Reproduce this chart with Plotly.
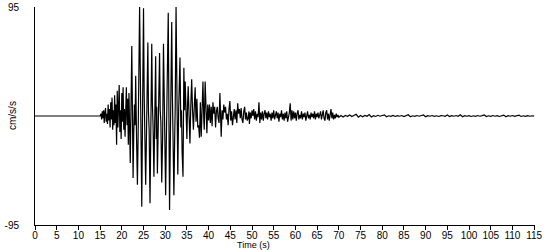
import plotly.graph_objects as go

# ---- Pre-event (flat) ----
pre_t = [0.0, 1.9, 2.0, 2.1, 14.9]
pre_v = [0, 0, 0.6, 0, 0]

# ---- Onset (15 - 22 s) ----
onset_t = [15.0, 15.2, 15.35, 15.5, 15.65, 15.8, 15.95, 16.1, 16.25, 16.4,
           16.55, 16.7, 16.85, 17.0, 17.15, 17.3, 17.45, 17.6, 17.75, 17.9,
           18.05, 18.2, 18.35, 18.5, 18.65, 18.8, 18.95, 19.1, 19.25, 19.4,
           19.55, 19.7, 19.85, 20.0, 20.15, 20.3, 20.45, 20.6, 20.75, 20.9,
           21.05, 21.2, 21.35, 21.5, 21.65, 21.8, 21.95]
onset_v = [0, 2, -3, 4, -2, 5, -6, 3, 7, -5,
           2, -7, 10, -4, 6, -10, 12, -3, 16, -12,
           5, -8, 18, -6, 10, -25, 22, -10, 8, 27,
           -14, 5, -20, 20, -5, 25, -12, 6, -18, 10,
           25, -8, 15, -25, 20, -10, -41]

# ---- Strong motion (22 - 36 s) ----
strong_t = [22.3, 22.45, 22.6, 22.75, 22.9, 23.05, 23.2, 23.4, 23.6, 23.8,
            24.1, 24.35, 24.6, 24.8, 25.0, 25.15, 25.25, 25.5, 25.65, 25.8,
            26.0, 26.15, 26.3, 26.5, 26.7, 26.9, 27.05, 27.2, 27.4, 27.6,
            27.8, 27.95, 28.05, 28.2, 28.35, 28.5, 28.7, 28.85, 29.0, 29.2,
            29.4, 29.6, 29.75, 29.9, 30.1, 30.25, 30.4, 30.7, 31.0, 31.15,
            31.3, 31.5, 31.65, 31.8, 32.0, 32.2, 32.3, 32.5, 32.7, 32.9,
            33.1, 33.25, 33.4, 33.6, 33.75, 33.9, 34.1, 34.3, 34.45, 34.6,
            34.8, 35.0, 35.15, 35.3, 35.5, 35.7, 35.9]
strong_v = [61, 5, -54, -15, 10, -8, 35, -20, -60, -5,
            95, 8, -79, 12, 94, 20, -10, -60, -25, 8,
            64, 3, -12, -76, 6, 63, 10, -8, -53, 4,
            52, -20, 8, -50, -10, 10, 55, 5, -5, -58,
            -20, 63, 15, -10, -69, -25, 12, 90, -82, -30,
            10, 82, 20, -8, -69, -15, 6, 95, 10, -51,
            5, 20, 51, -10, 5, -32, -53, 42, 5, 30,
            -8, -20, 10, 26, 0, -24, 10]

# ---- Coda (36 - 70 s) ----
coda_t = [36.1, 36.3, 36.5, 36.7, 36.9, 37.1, 37.3, 37.5, 37.7, 37.9,
          38.1, 38.3, 38.5, 38.7, 38.9, 39.0, 39.2, 39.4, 39.6, 39.8,
          40.0, 40.2, 40.4, 40.6, 40.8, 41.0, 41.2, 41.4, 41.6, 41.8,
          42.0, 42.2, 42.4, 42.6, 42.8, 42.9, 43.1, 43.3, 43.5, 43.7,
          43.9, 44.1, 44.3, 44.5, 44.7, 44.9, 45.1, 45.3, 45.5, 45.7,
          45.9, 46.1, 46.3, 46.5, 46.7, 46.9, 47.1, 47.3, 47.5, 47.7,
          47.9, 48.1, 48.3, 48.5, 48.7, 48.9, 49.1, 49.3, 49.4, 49.6,
          49.8, 50.0, 50.2, 50.4, 50.6, 50.8, 51.0, 51.2, 51.4, 51.6,
          51.8, 52.0, 52.2, 52.4, 52.6, 52.8, 53.0, 53.2, 53.4, 53.6,
          53.8, 54.0, 54.2, 54.4, 54.6, 54.8, 55.0, 55.2, 55.4, 55.6,
          55.8, 56.0, 56.2, 56.4, 56.6, 56.8, 57.0, 57.2, 57.4, 57.6,
          57.8, 58.0, 58.2, 58.4, 58.6, 58.8, 59.0, 59.2, 59.4, 59.6,
          59.8, 60.0, 60.2, 60.4, 60.6, 60.8, 61.0, 61.2, 61.4, 61.6,
          61.8, 62.0, 62.2, 62.4, 62.6, 62.8, 63.0, 63.2, 63.4, 63.6,
          63.8, 64.0, 64.2, 64.4, 64.6, 64.8, 65.0, 65.2, 65.4, 65.6,
          65.8, 66.0, 66.2, 66.4, 66.6, 66.8, 67.0, 67.2, 67.4, 67.6,
          67.8, 68.0, 68.2, 68.4, 68.6, 68.8, 69.0, 69.2, 69.4, 69.6,
          69.8, 70.0]
coda_v = [32, 5, -12, 8, 25, -5, 15, -10, -8, -19,
          12, -18, 20, 30, -5, -12, 30, 5, -15, 10,
          -4, 10, -6, 8, -9, 12, 2, 8, -10, 4,
          8, -2, -6, 20, 2, -18, 5, -3, 10, 3,
          8, -3, 2, -8, 6, 13, -4, 4, -8, 3,
          6, -3, 5, -6, 11, 2, 6, -2, 7, -3,
          -6, 4, 8, -3, 3, -4, -2, 4, -7, 3,
          -2, 5, 0, 6, -3, 4, -4, 2, -1, 12,
          -6, 3, -3, 4, -4, 2, 5, -2, 3, -3,
          4, -1, 2, -4, 3, -2, 5, -3, 1, 4,
          -2, 3, -5, 2, -1, 5, -3, 2, -4, 3,
          -2, 4, -5, -1, 3, 11, -4, 5, -3, 4,
          -2, 3, -4, 2, 5, -3, 1, -2, 4, -3,
          2, -1, 3, -4, 2, 4, -2, 1, -3, 3,
          -1, 2, -2, 4, -3, 2, -1, 3, -2, 1,
          4, -3, 2, 5, -2, -4, 3, 5, -3, 2,
          -4, 4, 6, -2, 3, -3, 1, -2, 2, -1,
          1, -1]

# ---- Tail (70 - 115 s) ----
tail_t = [70.5, 71.0, 71.5, 72.0, 72.5, 73.0, 73.5, 74.0, 74.5, 75.0,
          75.5, 76.0, 76.5, 77.0, 77.5, 78.0, 78.5, 79.0, 79.5, 80.0,
          80.5, 81.0, 81.5, 82.0, 82.5, 83.0, 83.5, 84.0, 84.5, 85.0,
          85.5, 86.0, 86.5, 87.0, 87.5, 88.0, 88.5, 89.0, 89.5, 90.0,
          90.5, 91.0, 91.5, 92.0, 92.5, 93.0, 93.5, 94.0, 94.5, 95.0,
          95.5, 96.0, 96.5, 97.0, 97.5, 98.0, 98.5, 99.0, 99.5, 100.0,
          100.5, 101.0, 101.5, 102.0, 102.5, 103.0, 103.5, 104.0, 104.5, 105.0,
          105.5, 106.0, 106.5, 107.0, 107.5, 108.0, 108.5, 109.0, 109.5, 110.0,
          110.5, 111.0, 111.5, 112.0, 112.5, 113.0, 113.5, 114.0, 114.5, 115.0]
tail_v = [0.5, -0.8, 0.4, -0.3, 0.9, -0.5, 0.3, 1.5, -1.0, 0.4,
          -0.6, 0.5, -0.3, 1.2, -0.8, 0.3, -0.4, 0.6, -0.2, 0.3,
          1.0, -0.7, 0.2, -0.3, 0.5, -0.4, 0.3, -0.2, 0.4, -0.5,
          0.3, 1.1, -0.6, 0.2, -0.3, 0.4, -0.2, 0.3, 0.9, -0.6,
          0.3, -0.2, 0.4, -0.3, 0.2, -0.4, 0.3, 0.2, -0.3, 0.8,
          -0.5, 0.3, -0.2, 0.4, -0.3, 1.0, -0.6, 0.3, -0.2, 0.3,
          -0.4, 0.2, -0.3, 0.4, -0.2, 0.3, 0.9, -0.5, 0.2, -0.3,
          0.4, -0.2, 0.3, -0.4, 0.2, 0.8, -0.6, 0.3, -0.2, 0.4,
          -0.3, 0.2, 0.7, -0.4, 0.2, -0.3, 0.3, -0.2, 0.2, -0.1]

for a, b in [(pre_t, pre_v), (onset_t, onset_v), (strong_t, strong_v),
             (coda_t, coda_v), (tail_t, tail_v)]:
    assert len(a) == len(b), (len(a), len(b))

time_s = pre_t + onset_t + strong_t + coda_t + tail_t
accel = pre_v + onset_v + strong_v + coda_v + tail_v

x_ticks = list(range(0, 120, 5))
y_ticks = [-95, 95]
y_tick_text = ["-95", "95"]

font_family = "Liberation Sans, Arial, sans-serif"

fig = go.Figure()
fig.add_trace(go.Scatter(
    x=time_s, y=accel, mode="lines",
    line=dict(color="black", width=1.2),
    hoverinfo="skip", showlegend=False,
))

fig.update_layout(
    width=550, height=250,
    margin=dict(l=35, r=15, t=7, b=25, autoexpand=False),
    paper_bgcolor="white", plot_bgcolor="white",
    font=dict(family=font_family, size=10, color="black"),
    xaxis=dict(
        range=[0, 115.2], tickvals=x_ticks, ticks="outside", ticklen=4,
        tickcolor="black", showline=True, linecolor="black", linewidth=1,
        showgrid=False, zeroline=False, tickfont=dict(size=10),
        ticklabelstandoff=-3, automargin=False,
    ),
    yaxis=dict(
        range=[-95, 95], tickvals=y_ticks, ticktext=y_tick_text, ticks="",
        showline=True, linecolor="black", linewidth=1,
        showgrid=False, zeroline=False, ticklabelstandoff=13,
        tickfont=dict(size=10), automargin=False,
    ),
    annotations=[
        dict(text="cm/s/s", xref="paper", yref="paper", x=0, y=0.5,
             xshift=-23, textangle=-90, showarrow=False,
             font=dict(size=10), xanchor="center", yanchor="middle"),
        dict(text="Time (s)", xref="paper", yref="paper", x=0.436, y=0,
             yshift=-26, showarrow=False, font=dict(size=9),
             xanchor="center", yanchor="bottom", borderpad=0),
    ],
)

fig.write_html("out.html")
